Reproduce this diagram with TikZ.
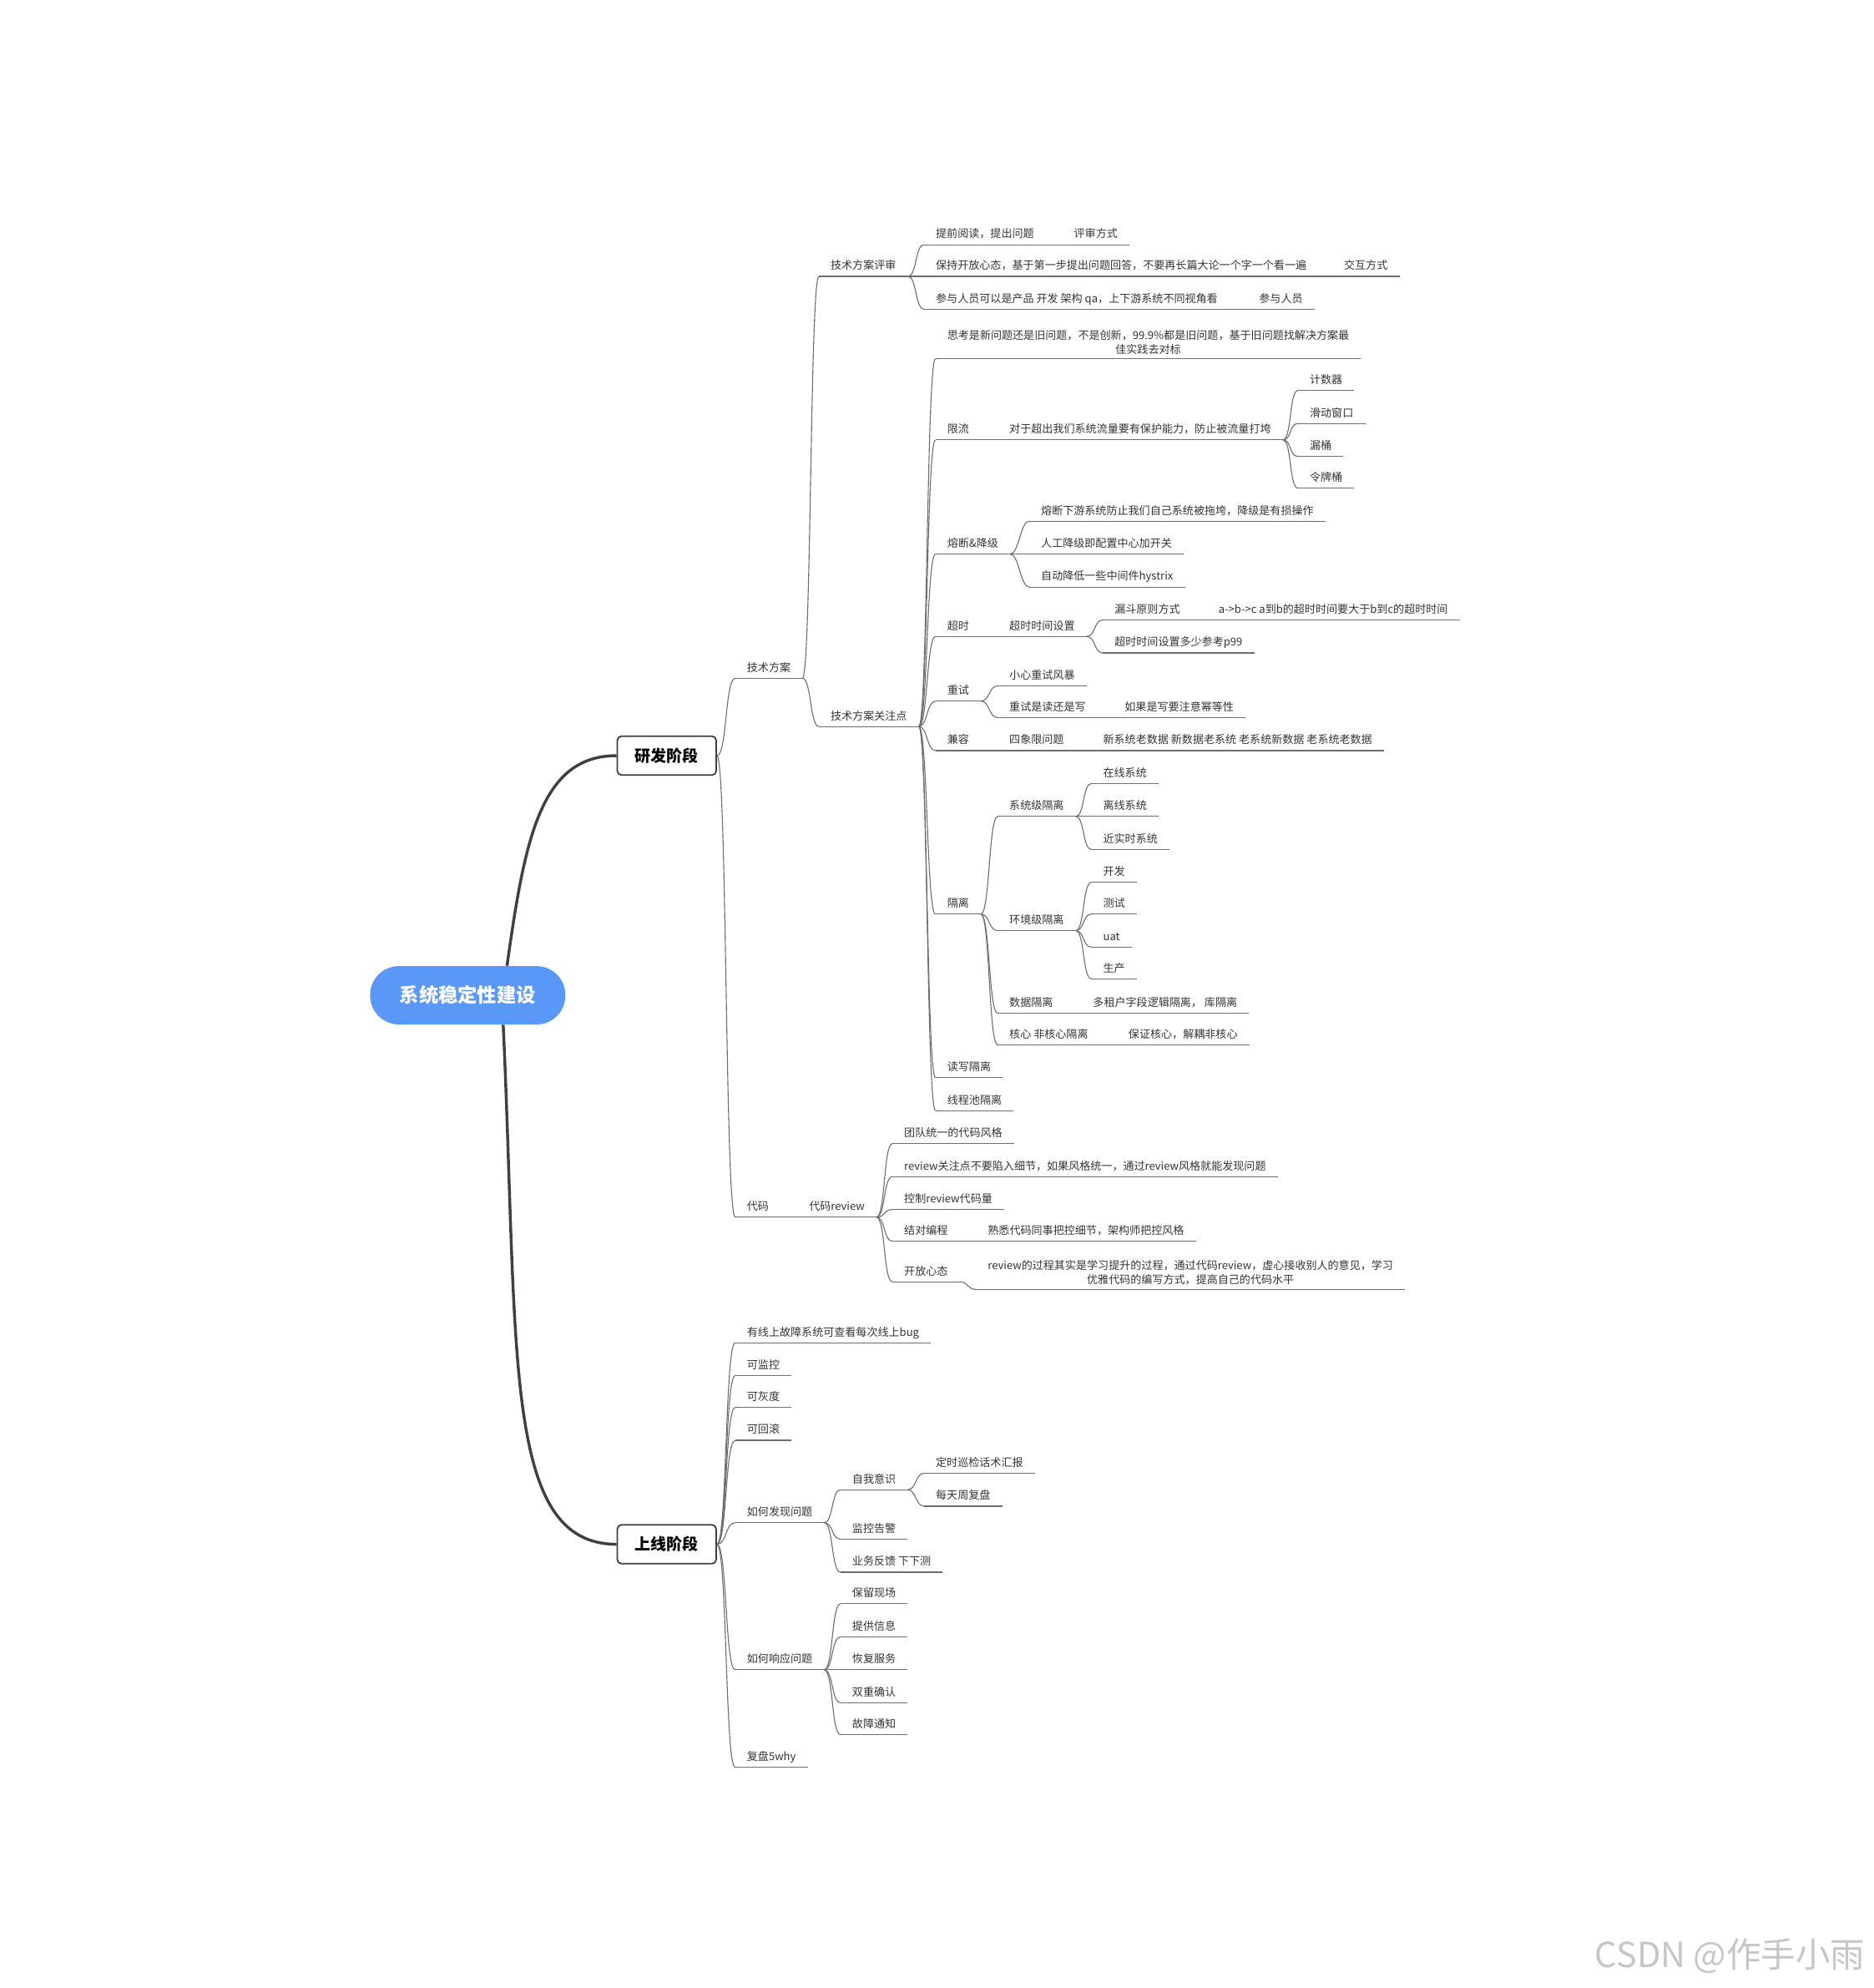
\documentclass[tikz,border=0pt]{standalone}
\usepackage{fontspec}
\setmainfont{Noto Sans CJK SC}
\usepackage{xcolor}
\usetikzlibrary{calc}
\definecolor{rootblue}{RGB}{90,152,247}
\definecolor{ink}{RGB}{51,51,51}
\definecolor{wire}{RGB}{110,110,110}
\definecolor{trunkc}{RGB}{64,64,64}

\begin{document}
\begin{tikzpicture}[x=0.75pt,y=-0.75pt,
  every node/.style={font=\fontsize{6.45pt}{8.6pt}\selectfont,text=ink},
  topic/.style={anchor=south west,inner xsep=7pt,inner ysep=2.6pt,outer sep=0pt,text height=5pt,text depth=1.4pt},
  multi/.style={anchor=south west,inner xsep=7pt,inner ysep=2.6pt,outer sep=0pt,align=center},
  rootnode/.style={fill=rootblue,rounded corners=17pt,minimum width=115.5pt,minimum height=34.5pt,text=white,font=\fontsize{11.5pt}{13pt}\selectfont\bfseries},
  stage/.style={draw=trunkc,line width=0.9pt,rounded corners=2.5pt,fill=white,minimum width=58.5pt,minimum height=23pt,text=black,font=\fontsize{9.4pt}{11pt}\selectfont\bfseries},
  branch/.style={draw=wire,line width=0.55pt},
  trunk/.style={draw=trunkc,line width=1.7pt}]
  \useasboundingbox (0,0) rectangle (1478,1568);

  % centre and the two stages
  \node[rootnode] (root) at (369,785) {系统稳定性建设};
  \node[stage] (yf) at (526,596) {研发阶段};
  \node[stage] (sx) at (526,1218) {上线阶段};
  \coordinate (rtop) at ($(root.north)+(31,0)$);
  \coordinate (rbot) at ($(root.south)+(28,0)$);
  \draw[trunk] (rtop) .. controls +(14,-100) and +(-60,0) .. (yf.west);
  \draw[trunk] (rbot) .. controls +(12,260) and +(-90,0) .. (sx.west);

  % 研发阶段
  \node[topic] (jsfa) at (580,535) {技术方案};
  \node[topic] (dm) at (580,960) {代码};
  \node[topic] (pshen) at (646,218) {技术方案评审};
  \node[topic] (gzd) at (646,573) {技术方案关注点};

  \node[topic] (r1) at (729,193) {提前阅读，提出问题};
  \node[topic] (r1b) at (838,193) {评审方式};
  \node[topic] (r2) at (729,218) {保持开放心态，基于第一步提出问题回答，不要再长篇大论一个字一个看一遍};
  \node[topic] (r2b) at (1051,218) {交互方式};
  \node[topic] (r3) at (729,244) {参与人员可以是产品 开发 架构 qa，上下游系统不同视角看};
  \node[topic] (r3b) at (984,244) {参与人员};

  \node[multi] (sk) at (738,283) {思考是新问题还是旧问题，不是创新，99.9\%都是旧问题，基于旧问题找解决方案最\\佳实践去对标};
  \node[topic] (xl) at (738,347) {限流};
  \node[topic] (xl1) at (787,347) {对于超出我们系统流量要有保护能力，防止被流量打垮};
  \node[topic] (js) at (1024,308) {计数器};
  \node[topic] (hd) at (1024,334) {滑动窗口};
  \node[topic] (lt) at (1024,360) {漏桶};
  \node[topic] (lp) at (1024,385) {令牌桶};

  \node[topic] (rd) at (738,437) {熔断\&降级};
  \node[topic] (rd1) at (812,411) {熔断下游系统防止我们自己系统被拖垮，降级是有损操作};
  \node[topic] (rd2) at (812,437) {人工降级即配置中心加开关};
  \node[topic] (rd3) at (812,463) {自动降低一些中间件hystrix};

  \node[topic] (cs) at (738,502) {超时};
  \node[topic] (cs1) at (787,502) {超时时间设置};
  \node[topic] (ld) at (870,489) {漏斗原则方式};
  \node[topic] (ld1) at (952,489) {a->b->c a到b的超时时间要大于b到c的超时时间};
  \node[topic] (p99) at (870,515) {超时时间设置多少参考p99};

  \node[topic] (cshi) at (738,553) {重试};
  \node[topic] (fb) at (787,541) {小心重试风暴};
  \node[topic] (dx) at (787,566) {重试是读还是写};
  \node[topic] (mdx) at (878,566) {如果是写要注意幂等性};

  \node[topic] (jr) at (738,592) {兼容};
  \node[topic] (sxx) at (787,592) {四象限问题};
  \node[topic] (sxx1) at (861,592) {新系统老数据 新数据老系统 老系统新数据 老系统老数据};

  \node[topic] (gl) at (738,721) {隔离};
  \node[topic] (xtj) at (787,644) {系统级隔离};
  \node[topic] (zx) at (861,618) {在线系统};
  \node[topic] (lx) at (861,644) {离线系统};
  \node[topic] (jss) at (861,670) {近实时系统};
  \node[topic] (hjj) at (787,734) {环境级隔离};
  \node[topic] (kf) at (861,696) {开发};
  \node[topic] (ce) at (861,721) {测试};
  \node[topic] (uat) at (861,747) {uat};
  \node[topic] (sc) at (861,772) {生产};
  \node[topic] (sjgl) at (787,799) {数据隔离};
  \node[topic] (sjgl1) at (853,799) {多租户字段逻辑隔离， 库隔离};
  \node[topic] (hx) at (787,824) {核心 非核心隔离};
  \node[topic] (hx1) at (881,824) {保证核心，解耦非核心};
  \node[topic] (dxgl) at (738,850) {读写隔离};
  \node[topic] (xcc) at (738,876) {线程池隔离};

  \node[topic] (rv) at (629,960) {代码review};
  \node[topic] (rv1) at (704,902) {团队统一的代码风格};
  \node[topic] (rv2) at (704,928) {review关注点不要陷入细节，如果风格统一，通过review风格就能发现问题};
  \node[topic] (rv3) at (704,954) {控制review代码量};
  \node[topic] (rv4) at (704,979) {结对编程};
  \node[topic] (rv4a) at (770,979) {熟悉代码同事把控细节，架构师把控风格};
  \node[topic] (rv5) at (704,1011) {开放心态};
  \node[multi] (rv5a) at (770,1017) {review的过程其实是学习提升的过程，通过代码review，虚心接收别人的意见，学习\\优雅代码的编写方式，提高自己的代码水平};

  % 上线阶段
  \node[topic] (b1) at (580,1059) {有线上故障系统可查看每次线上bug};
  \node[topic] (b2) at (580,1085) {可监控};
  \node[topic] (b3) at (580,1110) {可灰度};
  \node[topic] (b4) at (580,1136) {可回滚};
  \node[topic] (fx) at (580,1201) {如何发现问题};
  \node[topic] (zw) at (663,1175) {自我意识};
  \node[topic] (zw1) at (729,1162) {定时巡检话术汇报};
  \node[topic] (zw2) at (729,1188) {每天周复盘};
  \node[topic] (jk) at (663,1214) {监控告警};
  \node[topic] (yw) at (663,1240) {业务反馈 下下测};
  \node[topic] (xy) at (580,1317) {如何响应问题};
  \node[topic] (xy1) at (663,1265) {保留现场};
  \node[topic] (xy2) at (663,1291) {提供信息};
  \node[topic] (xy3) at (663,1317) {恢复服务};
  \node[topic] (xy4) at (663,1343) {双重确认};
  \node[topic] (xy5) at (663,1368) {故障通知};
  \node[topic] (fp) at (580,1394) {复盘5why};

  % underlines
  \foreach \n in {jsfa,dm,pshen,gzd,r1,r1b,r2,r2b,r3,r3b,sk,xl,xl1,js,hd,lt,lp,
      rd,rd1,rd2,rd3,cs,cs1,ld,ld1,p99,cshi,fb,dx,mdx,jr,sxx,sxx1,
      gl,xtj,zx,lx,jss,hjj,kf,ce,uat,sc,sjgl,sjgl1,hx,hx1,dxgl,xcc,
      rv,rv1,rv2,rv3,rv4,rv4a,rv5,rv5a,
      b1,b2,b3,b4,fx,zw,zw1,zw2,jk,yw,xy,xy1,xy2,xy3,xy4,xy5,fp}
    \draw[branch] (\n.south west) -- (\n.south east);

  % branches out of the stage boxes
  \foreach \c in {jsfa,dm}
    \draw[branch] (yf.east) .. controls +(8,0) and +(-8,0) .. (\c.south west);
  \foreach \c in {b1,b2,b3,b4,fx,xy,fp}
    \draw[branch] (sx.east) .. controls +(8,0) and +(-8,0) .. (\c.south west);

  % branches between topics
  \foreach \p/\c in {jsfa/pshen,jsfa/gzd,pshen/r1,pshen/r2,pshen/r3,r1/r1b,r2/r2b,r3/r3b,
      gzd/sk,gzd/xl,gzd/rd,gzd/cs,gzd/cshi,gzd/jr,gzd/gl,gzd/dxgl,gzd/xcc,
      xl/xl1,xl1/js,xl1/hd,xl1/lt,xl1/lp,rd/rd1,rd/rd2,rd/rd3,
      cs/cs1,cs1/ld,ld/ld1,cs1/p99,cshi/fb,cshi/dx,dx/mdx,jr/sxx,sxx/sxx1,
      gl/xtj,xtj/zx,xtj/lx,xtj/jss,gl/hjj,hjj/kf,hjj/ce,hjj/uat,hjj/sc,
      gl/sjgl,sjgl/sjgl1,gl/hx,hx/hx1,
      dm/rv,rv/rv1,rv/rv2,rv/rv3,rv/rv4,rv4/rv4a,rv/rv5,rv5/rv5a,
      fx/zw,zw/zw1,zw/zw2,fx/jk,fx/yw,xy/xy1,xy/xy2,xy/xy3,xy/xy4,xy/xy5}
    \draw[branch] (\p.south east) .. controls +(7,0) and +(-7,0) .. (\c.south west);

  \node[anchor=east,text=gray!45,font=\fontsize{20.5pt}{22pt}\selectfont] (wm) at (1476,1543) {CSDN @作手小雨};
\end{tikzpicture}
\end{document}
